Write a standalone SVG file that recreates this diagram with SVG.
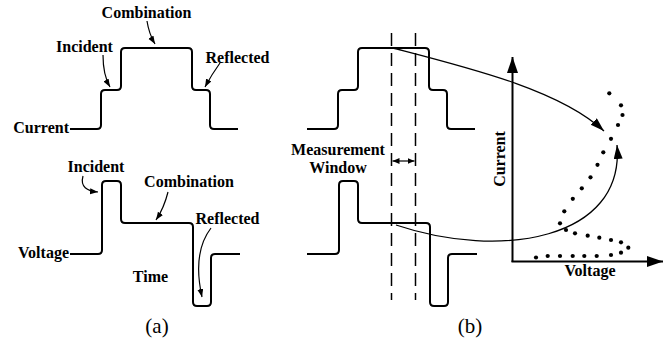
<svg xmlns="http://www.w3.org/2000/svg" width="669" height="343" viewBox="0 0 669 343">
<style>
text{font-family:"Liberation Serif","Times New Roman",serif;font-weight:bold;font-size:16px;fill:#000}
.cap{font-weight:normal;font-size:21px}
.wave{fill:none;stroke:#000;stroke-width:2;stroke-linejoin:round}
.ptr{fill:none;stroke:#000;stroke-width:1.2}
.big{fill:none;stroke:#000;stroke-width:1.3}
.axis{fill:none;stroke:#000;stroke-width:2}
.dash{fill:none;stroke:#000;stroke-width:1.5;stroke-dasharray:13 7}
.dot{fill:#000}
</style>
<defs>
<marker id="sm" markerUnits="userSpaceOnUse" markerWidth="9" markerHeight="7" refX="8" refY="3" orient="auto"><path d="M0,0 L8,3 L0,6 z" fill="#000"/></marker>
<marker id="lg" markerUnits="userSpaceOnUse" markerWidth="15" markerHeight="10" refX="14" refY="4.5" orient="auto"><path d="M0,0 L14,4.5 L0,9 z" fill="#000"/></marker>
<marker id="ax" markerUnits="userSpaceOnUse" markerWidth="17" markerHeight="12" refX="16" refY="5.5" orient="auto"><path d="M0,0 L16,5.5 L0,11 z" fill="#000"/></marker>
<marker id="mw" markerUnits="userSpaceOnUse" markerWidth="8" markerHeight="7" refX="7" refY="3" orient="auto-start-reverse"><path d="M0,0 L7,3 L0,6 z" fill="#000"/></marker>
<path id="cur" d="M70,129 H97 Q101,129 101,125 V94 Q101,90 105,90 H117 Q121,90 121,86 V52 Q121,48 125,48 H188 Q192,48 192,52 V86 Q192,90 196,90 H206 Q210,90 210,94 V125 Q210,129 214,129 H238"/>
<path id="vol" d="M70,254 H98 Q102,254 102,250 V185 Q102,181 106,181 H117 Q121,181 121,185 V219 Q121,223 125,223 H189 Q193,223 193,227 V302 Q193,306 197,306 H207 Q211,306 211,302 V258 Q211,254 215,254 H240"/>
</defs>

<g id="panel-a-current">
<use href="#cur" class="wave"/>
<text x="69" y="133" text-anchor="end">Current</text>
<text x="146.5" y="18" text-anchor="middle">Combination</text>
<text x="84.5" y="52" text-anchor="middle">Incident</text>
<text x="237.5" y="63" text-anchor="middle">Reflected</text>
</g>

<g id="panel-a-voltage">
<use href="#vol" class="wave"/>
<text x="69" y="258" text-anchor="end">Voltage</text>
<text x="96" y="172" text-anchor="middle">Incident</text>
<text x="189" y="187" text-anchor="middle">Combination</text>
<text x="227.5" y="224" text-anchor="middle">Reflected</text>
<text x="150.5" y="282" text-anchor="middle">Time</text>
</g>

<g id="label-a"><text class="cap" x="157" y="333" text-anchor="middle">(a)</text></g>

<g id="panel-b-current"><use href="#cur" class="wave" transform="translate(237,0)"/></g>
<g id="panel-b-voltage"><use href="#vol" class="wave" transform="translate(237,0)"/></g>

<g id="measurement-window">
<line class="dash" x1="391.5" y1="33" x2="391.5" y2="300"/>
<line class="dash" x1="415.5" y1="33" x2="415.5" y2="300"/>
<text x="338" y="155" text-anchor="middle">Measurement</text>
<text x="338" y="173" text-anchor="middle">Window</text>
</g>

<g id="iv-plot">
<text x="590" y="276" text-anchor="middle">Voltage</text>
<text transform="translate(505,159) rotate(-90)" text-anchor="middle">Current</text>
<g class="dot">
<circle cx="609.3" cy="93.3" r="2.1"/>
<circle cx="621" cy="105.3" r="2.1"/>
<circle cx="622.5" cy="115" r="2.1"/>
<circle cx="618" cy="125" r="2.1"/>
<circle cx="611" cy="138.8" r="2.1"/>
<circle cx="603.3" cy="152.3" r="2.1"/>
<circle cx="597.5" cy="164.8" r="2.1"/>
<circle cx="590.5" cy="177.3" r="2.1"/>
<circle cx="581.8" cy="188.3" r="2.1"/>
<circle cx="572.8" cy="198.8" r="2.1"/>
<circle cx="564.3" cy="211.3" r="2.1"/>
<circle cx="560" cy="223.3" r="2.1"/>
<circle cx="566" cy="230" r="2.1"/>
<circle cx="575" cy="233.3" r="2.1"/>
<circle cx="587.7" cy="235.7" r="2.1"/>
<circle cx="599.3" cy="237.7" r="2.1"/>
<circle cx="611" cy="240" r="2.1"/>
<circle cx="621" cy="242.3" r="2.1"/>
<circle cx="628.3" cy="247.7" r="2.1"/>
<circle cx="621" cy="252.7" r="2.1"/>
<circle cx="611" cy="255" r="2.1"/>
<circle cx="596.7" cy="256" r="2.1"/>
<circle cx="584.3" cy="256" r="2.1"/>
<circle cx="572.7" cy="256" r="2.1"/>
<circle cx="560" cy="256" r="2.1"/>
<circle cx="547.7" cy="256" r="2.1"/>
<circle cx="536" cy="257.5" r="2.1"/>
</g>
</g>

<g id="label-b"><text class="cap" x="470" y="333" text-anchor="middle">(b)</text></g>

<g id="connectors">
<path class="ptr" marker-end="url(#sm)" d="M147,21 Q149,34 155,44"/>
<path class="ptr" marker-end="url(#sm)" d="M103,55 Q103,75 110,87"/>
<path class="ptr" marker-end="url(#sm)" d="M220,63 Q212,74 205,87"/>
<path class="ptr" marker-end="url(#sm)" d="M83,176 C80,187 87,191 98,192"/>
<path class="ptr" marker-end="url(#sm)" d="M168,192 Q164,208 156,220"/>
<path class="ptr" marker-end="url(#sm)" d="M211,228 C198,245 196,270 202,297"/>
<line class="ptr" marker-start="url(#mw)" marker-end="url(#mw)" x1="392.5" y1="161" x2="414.5" y2="161"/>
<path class="axis" marker-end="url(#ax)" d="M512.5,262 V57"/>
<path class="axis" marker-end="url(#ax)" d="M511.5,261.5 H663"/>
<path class="big" marker-end="url(#lg)" d="M393,48 C470,68 560,90 604,131"/>
<path class="big" marker-end="url(#lg)" d="M396,225 C500,260 625,240 617,145"/>
</g>
</svg>
